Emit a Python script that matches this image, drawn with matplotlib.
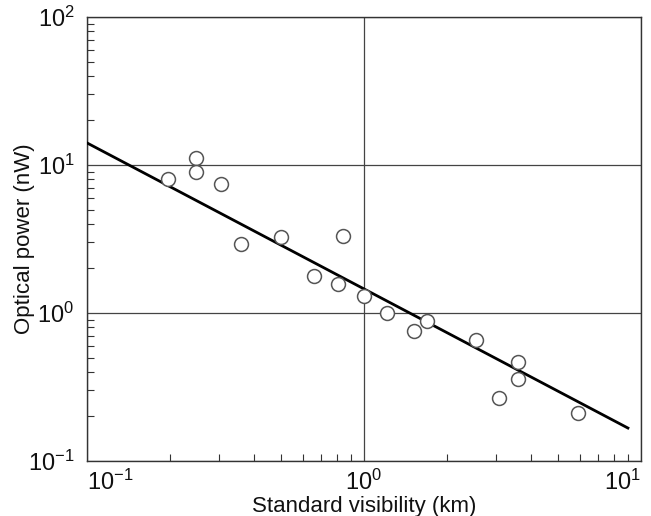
import matplotlib
matplotlib.use("Agg")
import matplotlib.pyplot as plt
from matplotlib.ticker import LogLocator, NullFormatter

plt.rcParams['font.family'] = ['Liberation Sans', 'DejaVu Sans']
plt.rcParams['mathtext.default'] = 'regular'

# measured points (visibility km, optical power nW)
visibility = [0.196, 0.247, 0.247, 0.305, 0.36, 0.50, 0.84, 0.66, 0.805,
              1.0, 1.21, 1.51, 1.69, 2.54, 3.60, 3.60, 3.07, 5.93]
power = [8.0, 11.1, 9.0, 7.45, 2.93, 3.27, 3.31, 1.78, 1.57,
         1.30, 1.0, 0.755, 0.88, 0.66, 0.467, 0.358, 0.267, 0.211]

# fitted line end points
fit_x = [0.1, 8.97]
fit_y = [14.1, 0.167]

x_ticks = [0.1, 1, 10]
x_labels = ['$10^{-1}$', '$10^{0}$', '$10^{1}$']
y_ticks = [0.1, 1, 10, 100]
y_labels = ['$10^{-1}$', '$10^{0}$', '$10^{1}$', '$10^{2}$']

fig = plt.figure(figsize=(6.51, 5.16), dpi=100)
ax = fig.add_axes([87/651, 1 - 461/516, (641-87)/651, (461-17)/516])

ax.set_xscale('log')
ax.set_yscale('log')

ax.grid(True, which='major', color='#444444', linewidth=0.9)
ax.plot(fit_x, fit_y, color='black', linewidth=2.0, zorder=3)
ax.plot(visibility, power, linestyle='none', marker='o', markersize=10,
        markerfacecolor='white', markeredgecolor='#555555', markeredgewidth=1.1, zorder=4)

for s in ax.spines.values():
    s.set_color('#333333')
    s.set_linewidth(1.0)

ax.set_xticks(x_ticks, labels=x_labels)
ax.set_yticks(y_ticks, labels=y_labels)
ax.xaxis.set_minor_locator(LogLocator(base=10, subs=range(2, 10)))
ax.yaxis.set_minor_locator(LogLocator(base=10, subs=range(2, 10)))
ax.xaxis.set_minor_formatter(NullFormatter())
ax.yaxis.set_minor_formatter(NullFormatter())
ax.set_xlim(0.1, 10)
ax.set_ylim(0.1, 100)
ax.tick_params(which='both', direction='in', top=False, right=False, colors='#333333')
ax.tick_params(which='major', length=0, labelsize=17, labelcolor='#111111')
ax.tick_params(axis='x', which='major', pad=6)
ax.tick_params(axis='y', which='major', pad=9)
ax.tick_params(which='minor', length=5, width=0.8)

xl = ax.get_xticklabels()
xl[0].set_ha('left')
xl[-1].set_ha('right')

ax.set_xlabel('Standard visibility (km)', fontsize=16, color='#111111', labelpad=1)
ax.set_ylabel('Optical power (nW)', fontsize=16, color='#111111', labelpad=-5)

fig.savefig('out.png', dpi=100)
